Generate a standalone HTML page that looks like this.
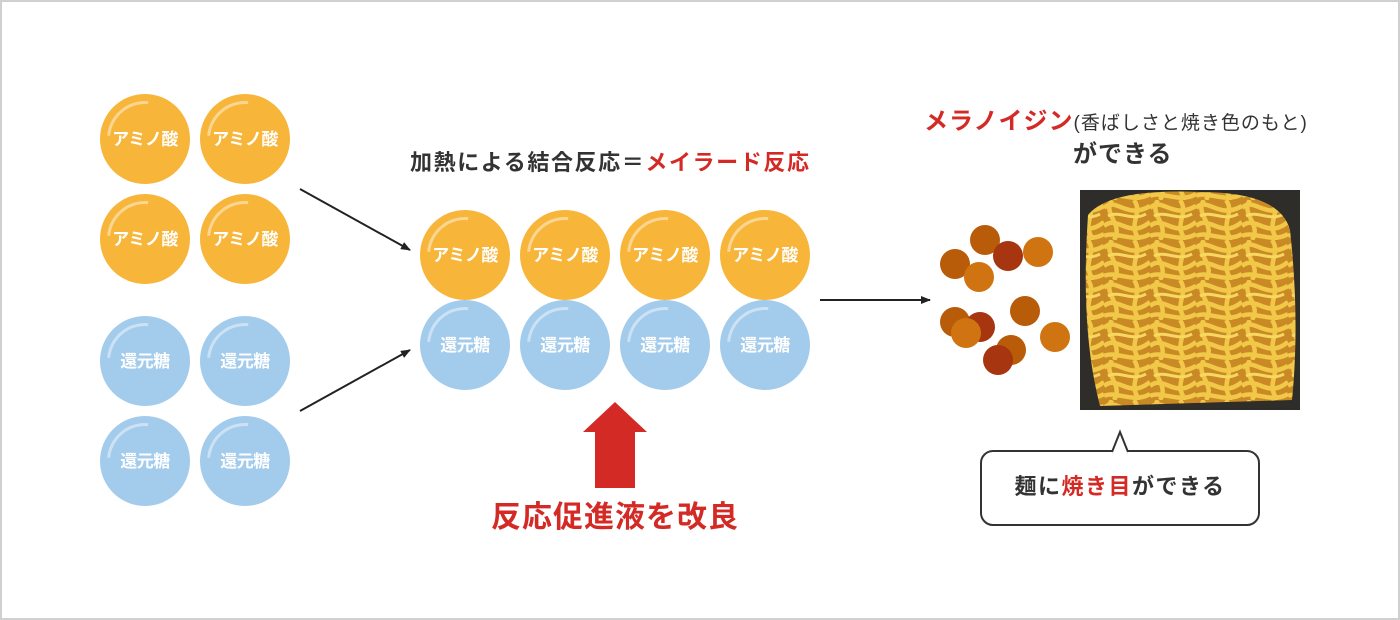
<!DOCTYPE html>
<html><head><meta charset="utf-8"><style>
body{margin:0;width:1400px;height:620px;overflow:hidden;background:#fff;font-family:"Liberation Sans","Noto Sans CJK JP",sans-serif;}
.frame{position:absolute;left:0;top:0;width:1396px;height:616px;border:2px solid #d0d0d0;}
.c{position:absolute;width:90px;height:86px;padding-bottom:4px;border-radius:50%;color:#fff;font-weight:bold;font-size:17px;display:flex;align-items:center;justify-content:center;letter-spacing:-0.5px}
.c::before{content:"";position:absolute;left:7px;top:7px;width:70px;height:70px;border-radius:50%;border:3px solid transparent;border-top-color:rgba(255,255,255,.45);transform:rotate(-40deg);}
.o{background:#f7b53a}.b{background:#a3cbec}
.t{position:absolute;white-space:nowrap;font-weight:bold;color:#333}
.r{color:#d42a26}
.d{position:absolute;width:30px;height:30px;border-radius:50%}
</style></head><body>
<div class="frame"></div>
<div class="c o" style="left:100px;top:94px">アミノ酸</div>
<div class="c o" style="left:200px;top:94px">アミノ酸</div>
<div class="c o" style="left:100px;top:194px">アミノ酸</div>
<div class="c o" style="left:200px;top:194px">アミノ酸</div>
<div class="c b" style="left:100px;top:316px">還元糖</div>
<div class="c b" style="left:200px;top:316px">還元糖</div>
<div class="c b" style="left:100px;top:416px">還元糖</div>
<div class="c b" style="left:200px;top:416px">還元糖</div>
<div class="c o" style="left:420px;top:210px">アミノ酸</div>
<div class="c o" style="left:520px;top:210px">アミノ酸</div>
<div class="c o" style="left:620px;top:210px">アミノ酸</div>
<div class="c o" style="left:720px;top:210px">アミノ酸</div>
<div class="c b" style="left:420px;top:300px">還元糖</div>
<div class="c b" style="left:520px;top:300px">還元糖</div>
<div class="c b" style="left:620px;top:300px">還元糖</div>
<div class="c b" style="left:720px;top:300px">還元糖</div>

<svg style="position:absolute;left:0;top:0" width="1400" height="620">
<defs><marker id="a" markerWidth="10" markerHeight="8" refX="9" refY="4" orient="auto" markerUnits="userSpaceOnUse"><path d="M0,0 L10,4 L0,8z" fill="#222"/></marker>
<pattern id="n" width="46" height="40" patternUnits="userSpaceOnUse">
<rect width="46" height="40" fill="#c98a25"/>
<path d="M0,8 C12,-4 22,20 46,6 M0,26 C14,14 24,40 46,22 M8,0 C-2,14 20,24 10,40 M30,0 C40,14 22,24 36,40 M0,36 C10,30 30,44 46,34" stroke="#f2c848" stroke-width="4.5" fill="none"/>
<path d="M4,16 C16,10 28,22 42,14" stroke="#f7d860" stroke-width="3" fill="none"/>
</pattern></defs>
<line x1="300" y1="189" x2="410" y2="250" stroke="#222" stroke-width="2" marker-end="url(#a)"/>
<line x1="300" y1="411" x2="410" y2="350" stroke="#222" stroke-width="2" marker-end="url(#a)"/>
<line x1="820" y1="300" x2="930" y2="300" stroke="#222" stroke-width="2" marker-end="url(#a)"/>
<path d="M615,402 L647,432 L635,432 L635,488 L595,488 L595,432 L583,432z" fill="#d42a26"/>
<rect x="1080" y="190" width="220" height="220" fill="#2f2d2a"/>
<path d="M1088,215 Q1110,188 1200,192 Q1280,192 1290,230 Q1300,320 1292,400 L1100,406 Q1080,330 1088,215z" fill="url(#n)"/>
<rect x="981" y="451" width="278" height="74" rx="12" fill="#fff" stroke="#333" stroke-width="2"/>
<path d="M1112,452 L1120,432 L1128,452" fill="#fff" stroke="#333" stroke-width="2"/>
</svg>
<div class="d" style="left:970px;top:225px;background:#b85c0a"></div>
<div class="d" style="left:940px;top:249px;background:#b85c0a"></div>
<div class="d" style="left:993px;top:241px;background:#a63510"></div>
<div class="d" style="left:1023px;top:237px;background:#d07412"></div>
<div class="d" style="left:964px;top:262px;background:#d07412"></div>
<div class="d" style="left:1010px;top:296px;background:#b85c0a"></div>
<div class="d" style="left:940px;top:307px;background:#b85c0a"></div>
<div class="d" style="left:965px;top:312px;background:#a63510"></div>
<div class="d" style="left:951px;top:318px;background:#d07412"></div>
<div class="d" style="left:1040px;top:322px;background:#d07412"></div>
<div class="d" style="left:996px;top:335px;background:#b85c0a"></div>
<div class="d" style="left:983px;top:345px;background:#a63510"></div>

<div class="t" style="left:410px;top:145px;font-size:22px;letter-spacing:1.6px">加熱による結合反応＝<span class="r">メイラード反応</span></div>
<div class="t r" style="left:0;width:1230px;text-align:center;top:492px;font-size:30px;letter-spacing:1px">反応促進液を改良</div>
<div class="t" style="left:924px;top:101px;font-size:24px;letter-spacing:1px"><span class="r">メラノイジン</span><span style="font-weight:normal;font-size:19px;letter-spacing:1px">(香ばしさと焼き色のもと)</span></div>
<div class="t" style="left:1073px;top:134px;font-size:24px;letter-spacing:1px">ができる</div>
<div class="t" style="left:981px;width:278px;text-align:center;top:469px;font-size:22px;letter-spacing:1.5px">麺に<span class="r">焼き目</span>ができる</div>
</body></html>
